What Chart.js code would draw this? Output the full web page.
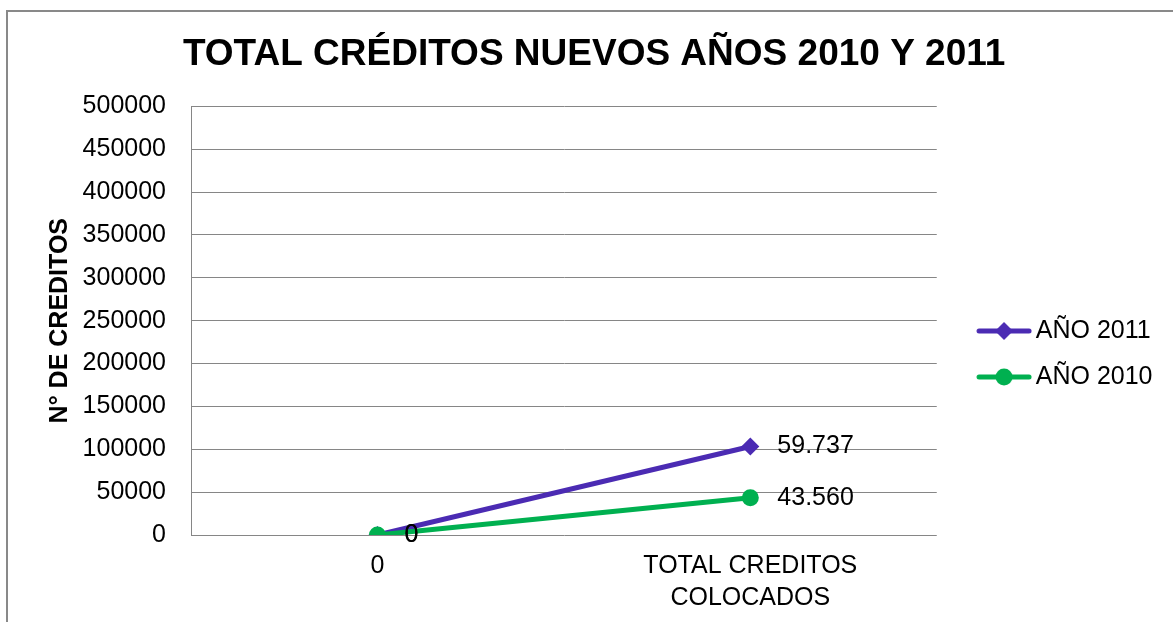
<!DOCTYPE html>
<html>
<head>
<meta charset="utf-8">
<script src="https://cdn.jsdelivr.net/npm/chart.js@4/dist/chart.umd.min.js"></script>
<style>
  html, body { margin: 0; padding: 0; background: #fff; overflow: hidden; }
  #frame { position: absolute; left: 6px; top: 10px; width: 1300px; height: 800px; border: 2px solid #898989; }
  #wrap { position: absolute; left: 0; top: 0; width: 1173px; height: 622px; }
</style>
</head>
<body>
<div id="frame"></div>
<div id="wrap"><canvas id="chart"></canvas></div>
<script>
const categories = ['0', ['TOTAL CREDITOS', 'COLOCADOS']];
const seriesNames = ['AÑO 2010', 'AÑO 2011'];
const valores2010 = [0, 43560];
const valores2011 = [0, 59737];
const yTicks = { min: 0, max: 500000, step: 50000 };

const FONT = "'Liberation Sans', Arial, sans-serif";
const purple = '#4b2bb3';
const green = '#00b050';
const grid = '#868686';

const fmt = (v) => String(v).replace(/\B(?=(\d{3})+(?!\d))/g, '.');

// legend marker: line with the point in the middle (left part of the canvas stays empty)
function legendIcon(color, style) {
  const c = document.createElement('canvas');
  c.width = 83; c.height = 22;
  const ctx = c.getContext('2d');
  ctx.strokeStyle = color; ctx.fillStyle = color;
  ctx.lineWidth = 5; ctx.lineCap = 'round';
  ctx.beginPath(); ctx.moveTo(30, 11); ctx.lineTo(80, 11); ctx.stroke();
  const cx = 55;
  ctx.beginPath();
  if (style === 'rectRot') {
    ctx.moveTo(cx - 9, 11); ctx.lineTo(cx, 2); ctx.lineTo(cx + 9, 11); ctx.lineTo(cx, 20);
  } else {
    ctx.arc(cx, 11, 8.5, 0, Math.PI * 2);
  }
  ctx.closePath(); ctx.fill();
  return c;
}

const valueLabels = {
  id: 'valueLabels',
  afterDatasetsDraw(chart) {
    const ctx = chart.ctx;
    ctx.save();
    ctx.font = `25px ${FONT}`;
    ctx.fillStyle = '#000';
    ctx.textAlign = 'left';
    ctx.textBaseline = 'middle';
    chart.data.datasets.forEach((ds, i) => {
      chart.getDatasetMeta(i).data.forEach((pt, j) => {
        ctx.fillText(fmt(ds.data[j]), pt.x + 27, pt.y);
      });
    });
    ctx.restore();
  },
};

new Chart(document.getElementById('chart'), {
  type: 'line',
  data: {
    labels: categories,
    datasets: [
      { label: seriesNames[0], data: valores2010, borderColor: green, backgroundColor: green,
        borderWidth: 5, pointStyle: 'circle', pointRadius: 8.5, pointBorderWidth: 0, fill: false },
      { label: seriesNames[1], data: valores2011, borderColor: purple, backgroundColor: purple,
        borderWidth: 5, pointStyle: 'rectRot', pointRadius: 9, pointBorderWidth: 0, fill: false },
    ],
  },
  options: {
    responsive: true,
    maintainAspectRatio: false,
    animation: false,
    layout: { padding: { left: 25.75, right: 10.5, top: 0, bottom: -7 } },
    plugins: {
      title: {
        display: true,
        text: 'TOTAL CRÉDITOS NUEVOS AÑOS 2010 Y 2011',
        color: '#000',
        font: { family: FONT, size: 37, weight: 'bold' },
        padding: { top: 33, bottom: 29 },
      },
      legend: {
        position: 'right',
        reverse: true,
        title: { display: true, text: ' ', font: { size: 10 }, padding: { top: 0, bottom: 67 } },
        labels: {
          usePointStyle: true,
          pointStyleWidth: 65.5,
          padding: 21,
          color: '#000',
          font: { family: FONT, size: 25 },
          generateLabels(chart) {
            const items = Chart.defaults.plugins.legend.labels.generateLabels(chart);
            items.forEach((it) => {
              const ds = chart.data.datasets[it.datasetIndex];
              it.pointStyle = legendIcon(ds.borderColor, ds.pointStyle);
            });
            return items;
          },
        },
      },
      tooltip: { enabled: false },
    },
    scales: {
      x: {
        offset: true,
        grid: { display: false, drawTicks: false },
        border: { display: false },
        ticks: { color: '#000', padding: 15, font: { family: FONT, size: 25, lineHeight: 1.28 } },
      },
      y: {
        stacked: true,
        min: yTicks.min,
        max: yTicks.max,
        afterFit(scale) { scale.width = 165.25; },
        grid: { color: grid, lineWidth: 1, drawTicks: false },
        border: { display: true, color: grid, width: 1 },
        ticks: { stepSize: yTicks.step, color: '#000', padding: 25, font: { family: FONT, size: 25 },
          callback: (v) => String(v) },
        title: { display: true, text: 'N° DE CREDITOS', color: '#000', padding: { top: 19.25, bottom: 4 },
          font: { family: FONT, size: 25, weight: 'bold' } },
      },
    },
  },
  plugins: [valueLabels],
});
</script>
</body>
</html>
